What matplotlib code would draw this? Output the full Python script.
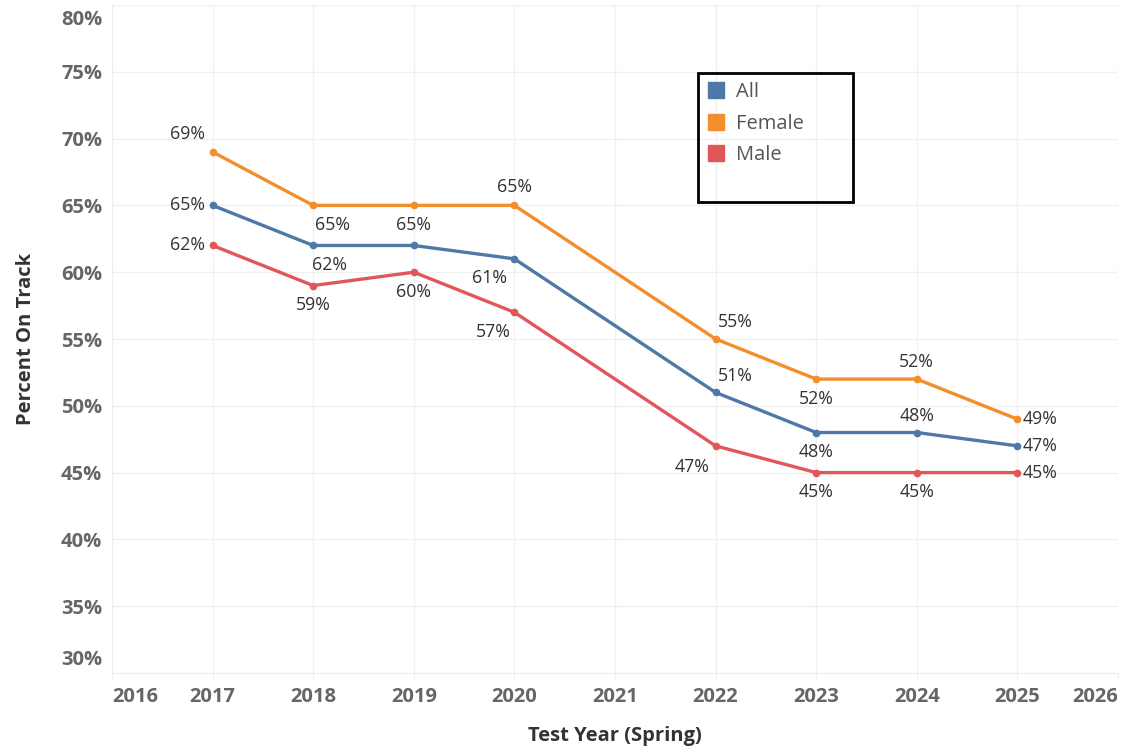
import matplotlib.pyplot as plt
import matplotlib.transforms as mtrans
from matplotlib.patches import Rectangle

years = [2017, 2018, 2019, 2020, 2022, 2023, 2024, 2025]
all_pct = [65, 62, 62, 61, 51, 48, 48, 47]
female_pct = [69, 65, 65, 65, 55, 52, 52, 49]
male_pct = [62, 59, 60, 57, 47, 45, 45, 45]

# label offsets in points (dx, dy), None = no label
all_off = [(-18, 0), (12, -14), None, (-18, -14), (14, 12), (0, -14), (0, 12), (16, 0)]
female_off = [(-18, 13), (14, -14), (0, -14), (0, 13), (14, 12), (0, -14), (0, 12), (16, 0)]
male_off = [(-18, 0), (0, -14), (0, -14), (-15, -14), (-17, -15), (0, -14), (0, -14), (16, 0)]

series = [
    ("All", all_pct, "#4e79a7", all_off),
    ("Female", female_pct, "#f28e2b", female_off),
    ("Male", male_pct, "#e15759", male_off),
]

fig = plt.figure(figsize=(11.23, 7.49), dpi=100)
ax = fig.add_axes([112 / 1123, 1 - 673 / 749, (1118 - 112) / 1123, (673 - 5) / 749])

for name, vals, col, offs in series:
    ax.plot(years, vals, color=col, lw=2.4, marker="o", ms=4.5, label=name, zorder=3)
    for x, v, off in zip(years, vals, offs):
        if off is None:
            continue
        ax.annotate(f"{v}%", (x, v), xytext=off, textcoords="offset points",
                    ha="center", va="center", fontsize=12.8, color="#333333",
                    family="Open Sans")

ax.set_xlim(2016, 2026)
ax.set_ylim(30, 80)
ax.set_xticks(range(2016, 2027))
ax.set_yticks(range(30, 81, 5))
ax.set_yticklabels([f"{t}%" for t in range(30, 81, 5)])
ax.grid(True, color="#f0f0f0", lw=1)
ax.set_axisbelow(True)
for s in ["top", "right"]:
    ax.spines[s].set_visible(False)
ax.spines["left"].set_color("#eeeeee")
ax.spines["bottom"].set_color("#eeeeee")
ax.tick_params(axis="y", length=0, pad=7)
ax.tick_params(axis="x", length=4, color="#eeeeee", pad=6)
for lab in ax.get_xticklabels() + ax.get_yticklabels():
    lab.set_family("Open Sans")
    lab.set_fontweight("bold")
    lab.set_fontsize(14.5)
    lab.set_color("#666666")
ylabs = ax.get_yticklabels()
ylabs[-1].set_va("center")
ylabs[-1].set_transform(ylabs[-1].get_transform()
                        + mtrans.ScaledTranslation(0, -15 / 100, fig.dpi_scale_trans))
ylabs[0].set_va("center")
ylabs[0].set_transform(ylabs[0].get_transform()
                       + mtrans.ScaledTranslation(0, 13 / 100, fig.dpi_scale_trans))
xlabs = ax.get_xticklabels()
xlabs[0].set_ha("left")
xlabs[-1].set_ha("right")

ax.set_xlabel("Test Year (Spring)", family="Open Sans", fontweight="bold",
              fontsize=14.5, color="#333333", labelpad=14)
ax.set_ylabel("Percent On Track", family="Open Sans", fontweight="bold",
              fontsize=14.5, color="#333333", labelpad=18)

leg = ax.legend(loc="upper left", bbox_to_anchor=((690 - 112) / 1006, 1 - 59 / 668),
                frameon=False, handlelength=0.8, handletextpad=0.6, labelspacing=0.58,
                prop={"family": "Open Sans", "size": 14.5})
for h in leg.legend_handles:
    h.set_linestyle("none")
    h.set_marker("s")
    h.set_markersize(11)
for t in leg.get_texts():
    t.set_color("#555555")
ax.add_patch(Rectangle((698, 749 - 202), 155, 129, transform=None, fill=False,
                       ec="black", lw=2, zorder=5))

fig.savefig("out.png", dpi=100)
